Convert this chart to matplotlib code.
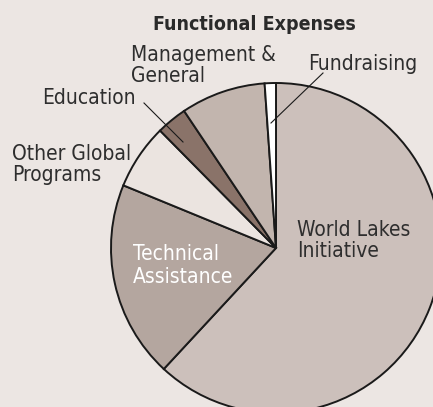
import matplotlib.pyplot as plt

# Functional expenses, percent of total
categories = ['World Lakes\nInitiative', 'Technical\nAssistance', 'Other Global\nPrograms',
              'Education', 'Management &\nGeneral', 'Fundraising']
shares = [61.9, 19.3, 6.4, 3.0, 8.3, 1.1]
colors = ['#CCC0BB', '#B4A69F', '#EBE4E0', '#8A7369', '#C2B5AE', '#FFFFFF']

W, H = 433, 407
BG = '#ECE6E3'
FONT = 'DejaVu Sans'

fig = plt.figure(figsize=(W / 100, H / 100), dpi=100, facecolor=BG)
ax = fig.add_axes([0, 0, 1, 1])
ax.set_facecolor(BG)

# pie centre and radius in pixels
cx, cy, r = 276, 248, 165

ax.pie(shares, colors=colors, startangle=90, counterclock=False, radius=1,
       wedgeprops=dict(edgecolor='#1a1a1a', linewidth=1.4))
ax.set_xlim(-cx / r, (W - cx) / r)
ax.set_ylim(-(H - cy) / r, cy / r)
ax.set_aspect('equal')
ax.axis('off')


def px(x, y):
    # pixel position (from top-left) -> figure fraction
    return x / W, 1 - y / H


def label(text, x, y, color='#2e2e2e', gap=21, **kw):
    for i, line in enumerate(text.split('\n')):
        fig.text(*px(x, y + i * gap), line, ha='left', va='baseline',
                 family=FONT, fontstretch='condensed', fontsize=15,
                 color=color, **kw)


fig.text(*px(254.5, 29.5), 'Functional Expenses', ha='center', va='baseline',
         family=FONT, fontstretch='condensed', fontsize=14, fontweight='bold',
         color='#2a2a2a')

label(categories[0], 297, 236)
label(categories[1], 133, 260, color='white', gap=23)
label(categories[2], 12, 160)
label(categories[3], 42, 104)
label(categories[4], 131, 61)
label(categories[5], 308, 70)

# leader lines
for (x0, y0), (x1, y1) in [((144, 103), (183, 142)), ((323, 73), (271, 123))]:
    fig.add_artist(plt.Line2D([px(x0, y0)[0], px(x1, y1)[0]],
                              [px(x0, y0)[1], px(x1, y1)[1]],
                              transform=fig.transFigure, color='#1a1a1a', linewidth=0.8))

fig.savefig('out.png', dpi=100, facecolor=BG)
